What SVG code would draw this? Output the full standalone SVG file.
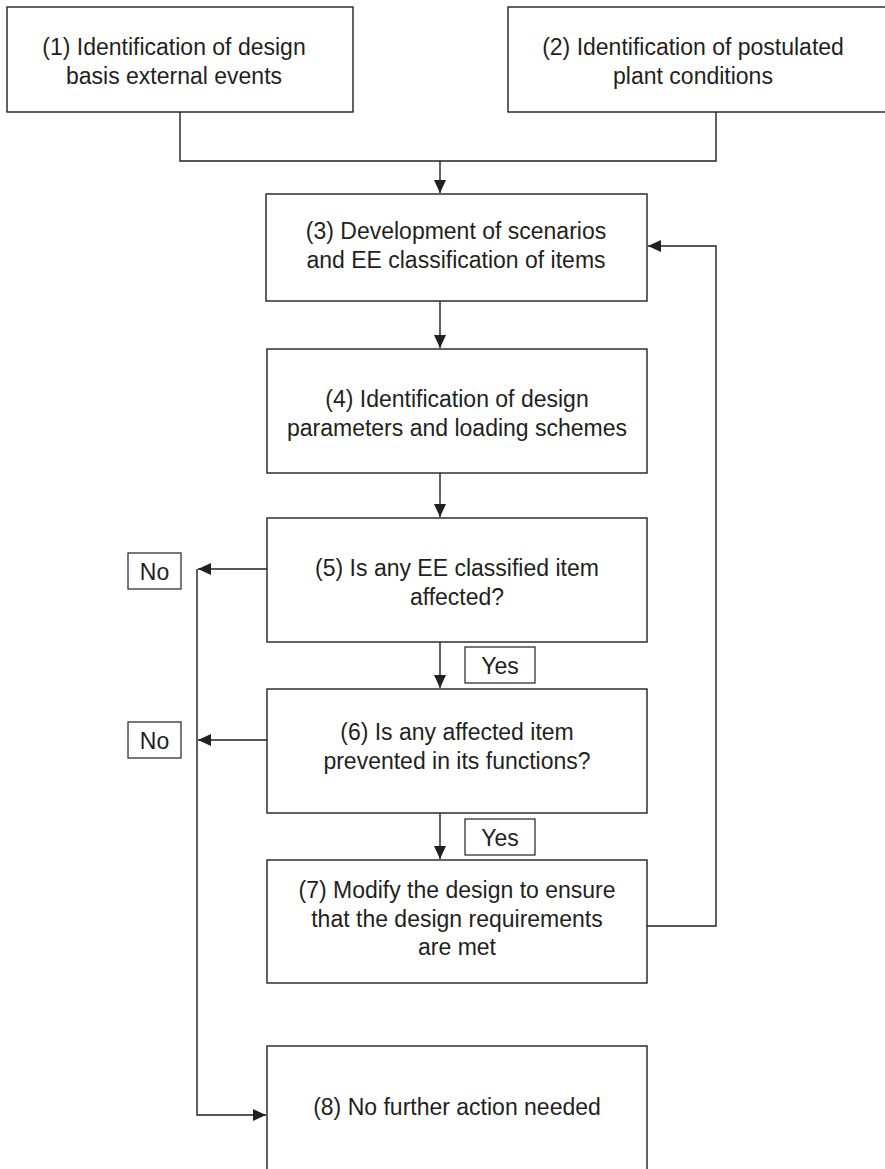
<svg xmlns="http://www.w3.org/2000/svg" width="885" height="1169" viewBox="0 0 885 1169">
<style>
.box{fill:#fff;stroke:#231f20;stroke-width:1.4}
.lbl{fill:#fff;stroke:#231f20;stroke-width:1.2}
.t{font-family:"Liberation Sans",Arial,sans-serif;font-size:23px;fill:#231f20;text-anchor:middle}
.c{fill:none;stroke:#231f20;stroke-width:1.4}
</style>
<defs>
<marker id="ah" markerUnits="userSpaceOnUse" markerWidth="13" markerHeight="12" refX="13" refY="6" orient="auto">
<path d="M0,0 L13,6 L0,12 Z" fill="#231f20"/>
</marker>
</defs>
<rect width="885" height="1169" fill="#fff"/>
<g id="connectors">
<path class="c" d="M180,112 V161 H716 V112"/>
<path class="c" d="M440,161 V193" marker-end="url(#ah)"/>
<path class="c" d="M440,301 V348" marker-end="url(#ah)"/>
<path class="c" d="M440,473 V517" marker-end="url(#ah)"/>
<path class="c" d="M440,642 V688" marker-end="url(#ah)"/>
<path class="c" d="M440,813 V859" marker-end="url(#ah)"/>
<path class="c" d="M647,926 H716 V246 H648" marker-end="url(#ah)"/>
<path class="c" d="M267,569 H198" marker-end="url(#ah)"/>
<path class="c" d="M267,740 H198" marker-end="url(#ah)"/>
<path class="c" d="M197,569 V1115 H266" marker-end="url(#ah)"/>
</g>
<g id="n1">
<rect class="box" x="7" y="7" width="346" height="105"/>
<text class="t" x="174" y="55">(1) Identification of design</text>
<text class="t" x="174" y="84">basis external events</text>
</g>
<g id="n2">
<rect class="box" x="508" y="7" width="390" height="105"/>
<text class="t" x="693" y="55">(2) Identification of postulated</text>
<text class="t" x="693" y="84">plant conditions</text>
</g>
<g id="n3">
<rect class="box" x="266" y="194" width="381" height="107"/>
<text class="t" x="456" y="239">(3) Development of scenarios</text>
<text class="t" x="456" y="268">and EE classification of items</text>
</g>
<g id="n4">
<rect class="box" x="267" y="349" width="380" height="124"/>
<text class="t" x="457" y="407">(4) Identification of design</text>
<text class="t" x="457" y="436">parameters and loading schemes</text>
</g>
<g id="n5">
<rect class="box" x="267" y="518" width="380" height="124"/>
<text class="t" x="457" y="576">(5) Is any EE classified item</text>
<text class="t" x="457" y="605">affected?</text>
</g>
<g id="n6">
<rect class="box" x="267" y="689" width="380" height="124"/>
<text class="t" x="457" y="740">(6) Is any affected item</text>
<text class="t" x="457" y="769">prevented in its functions?</text>
</g>
<g id="n7">
<rect class="box" x="267" y="860" width="380" height="123"/>
<text class="t" x="457" y="898">(7) Modify the design to ensure</text>
<text class="t" x="457" y="927">that the design requirements</text>
<text class="t" x="457" y="955">are met</text>
</g>
<g id="n8">
<rect class="box" x="267" y="1046" width="380" height="140"/>
<text class="t" x="457" y="1115">(8) No further action needed</text>
</g>
<g id="no1">
<rect class="lbl" x="128" y="553" width="53" height="36"/>
<text class="t" x="154.5" y="580">No</text>
</g>
<g id="no2">
<rect class="lbl" x="128" y="722" width="53" height="36"/>
<text class="t" x="154.5" y="749">No</text>
</g>
<g id="yes1">
<rect class="lbl" x="465" y="647" width="70" height="36"/>
<text class="t" x="500" y="674">Yes</text>
</g>
<g id="yes2">
<rect class="lbl" x="465" y="819" width="70" height="36"/>
<text class="t" x="500" y="846">Yes</text>
</g>
</svg>
